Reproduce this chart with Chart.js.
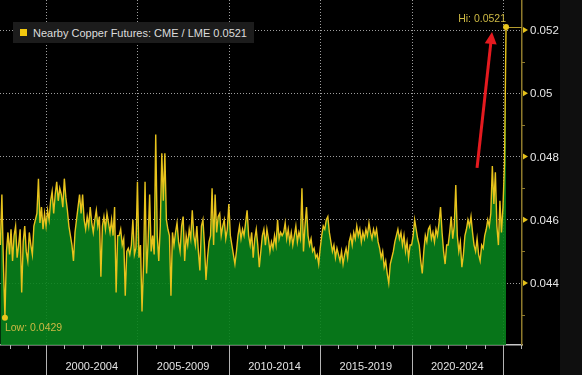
<!DOCTYPE html>
<html>
<head>
<meta charset="utf-8">
<script src="https://cdn.jsdelivr.net/npm/chart.js@4.4.1/dist/chart.umd.min.js"></script>
<style>
  html, body { margin: 0; padding: 0; background: #000; }
  body { width: 582px; height: 375px; position: relative; overflow: hidden; }
  #wrap { position: absolute; left: 0; top: 0; width: 560px; height: 375px; }
  #side { position: absolute; left: 560px; top: 0; width: 22px; height: 375px; background: #0f0f0f; }
  #legend { position: absolute; left: 13px; top: 22px; height: 21px; padding: 0 7px; background: #1c1c1c;
            display: flex; align-items: center; font: 11px 'Liberation Sans', Arial, sans-serif; color: #dcdcdc; white-space: nowrap; }
  #legend i { display: inline-block; width: 7px; height: 7px; background: #f2c80f; margin-right: 6px; }
</style>
</head>
<body>
<div id="wrap"><canvas id="grafico"></canvas></div>
<div id="side"></div>
<div id="legend"><i></i><span id="legendText"></span></div>
<script>
// monthly readings, first one is Jul 1997
const startYear = 1997.5;
const ratio = [
  0.0452, 0.0468, 0.0446, 0.0429, 0.0450, 0.0456,
  0.0449, 0.0457, 0.0447, 0.0455, 0.0458, 0.0448, 0.0452, 0.0457, 0.0437, 0.0453, 0.0458, 0.0450, // 1998
  0.0447, 0.0456, 0.0452, 0.0449, 0.0458, 0.0460, 0.0462, 0.0473, 0.0459, 0.0464, 0.0457, 0.0462, // 1999
  0.0458, 0.0463, 0.0460, 0.0466, 0.0469, 0.0462, 0.0468, 0.0472, 0.0466, 0.0470, 0.0468, 0.0464, // 2000
  0.0473, 0.0467, 0.0463, 0.0458, 0.0455, 0.0452, 0.0447, 0.0456, 0.0460, 0.0464, 0.0468, 0.0462, // 2001
  0.0468, 0.0460, 0.0457, 0.0461, 0.0458, 0.0464, 0.0459, 0.0456, 0.0460, 0.0463, 0.0458, 0.0461, // 2002
  0.0442, 0.0458, 0.0461, 0.0457, 0.0462, 0.0459, 0.0456, 0.0460, 0.0455, 0.0464, 0.0437, 0.0455, // 2003
  0.0455, 0.0457, 0.0452, 0.0454, 0.0436, 0.0450, 0.0451, 0.0449, 0.0452, 0.0460, 0.0449, 0.0451, // 2004
  0.0472, 0.0448, 0.0452, 0.0431, 0.0446, 0.0472, 0.0443, 0.0453, 0.0468, 0.0450, 0.0455, 0.0449, // 2005
  0.0487, 0.0455, 0.0447, 0.0458, 0.0481, 0.0466, 0.0481, 0.0460, 0.0457, 0.0455, 0.0436, 0.0456, // 2006
  0.0452, 0.0456, 0.0459, 0.0453, 0.0450, 0.0458, 0.0461, 0.0447, 0.0455, 0.0452, 0.0457, 0.0454, // 2007
  0.0463, 0.0455, 0.0452, 0.0458, 0.0450, 0.0444, 0.0458, 0.0460, 0.0452, 0.0441, 0.0448, 0.0453, // 2008
  0.0455, 0.0470, 0.0452, 0.0468, 0.0456, 0.0461, 0.0462, 0.0455, 0.0458, 0.0460, 0.0454, 0.0457, // 2009
  0.0465, 0.0455, 0.0452, 0.0449, 0.0446, 0.0450, 0.0455, 0.0458, 0.0454, 0.0457, 0.0455, 0.0459, // 2010
  0.0463, 0.0455, 0.0452, 0.0456, 0.0448, 0.0454, 0.0457, 0.0452, 0.0445, 0.0450, 0.0455, 0.0457, // 2011
  0.0452, 0.0457, 0.0454, 0.0450, 0.0453, 0.0451, 0.0455, 0.0452, 0.0460, 0.0454, 0.0456, 0.0455, // 2012
  0.0456, 0.0459, 0.0454, 0.0457, 0.0453, 0.0456, 0.0452, 0.0455, 0.0458, 0.0453, 0.0456, 0.0454, // 2013
  0.0470, 0.0450, 0.0458, 0.0464, 0.0455, 0.0452, 0.0454, 0.0450, 0.0451, 0.0448, 0.0449, 0.0446, // 2014
  0.0451, 0.0455, 0.0458, 0.0457, 0.0460, 0.0461, 0.0456, 0.0453, 0.0450, 0.0452, 0.0448, 0.0451, // 2015
  0.0449, 0.0447, 0.0450, 0.0446, 0.0449, 0.0451, 0.0448, 0.0453, 0.0455, 0.0452, 0.0456, 0.0454, // 2016
  0.0458, 0.0455, 0.0457, 0.0453, 0.0456, 0.0454, 0.0457, 0.0455, 0.0459, 0.0456, 0.0454, 0.0457, // 2017
  0.0455, 0.0457, 0.0453, 0.0451, 0.0448, 0.0450, 0.0445, 0.0447, 0.0443, 0.0440, 0.0446, 0.0448, // 2018
  0.0450, 0.0453, 0.0455, 0.0457, 0.0454, 0.0456, 0.0452, 0.0455, 0.0450, 0.0453, 0.0448, 0.0452, // 2019
  0.0452, 0.0455, 0.0460, 0.0457, 0.0454, 0.0452, 0.0447, 0.0443, 0.0450, 0.0455, 0.0453, 0.0457, // 2020
  0.0458, 0.0454, 0.0456, 0.0453, 0.0457, 0.0455, 0.0459, 0.0464, 0.0456, 0.0450, 0.0446, 0.0452, // 2021
  0.0452, 0.0456, 0.0461, 0.0454, 0.0458, 0.0471, 0.0455, 0.0450, 0.0453, 0.0445, 0.0449, 0.0455, // 2022
  0.0457, 0.0460, 0.0458, 0.0461, 0.0456, 0.0452, 0.0450, 0.0454, 0.0449, 0.0447, 0.0452, 0.0451, // 2023
  0.0455, 0.0457, 0.0460, 0.0458, 0.0462, 0.0477, 0.0465, 0.0475, 0.0458, 0.0452, 0.0466, 0.0456, // 2024
  0.0464, 0.0478, 0.0521 // 2025
];

const periodStarts = [2000, 2005, 2010, 2015, 2020, 2025];
const periodLabels = ['2000-2004', '2005-2009', '2010-2014', '2015-2019', '2020-2024'];
const yTicks = [0.044, 0.046, 0.048, 0.05, 0.052];
const yTickLabels = ['0.044', '0.046', '0.048', '0.05', '0.052'];
const seriesName = 'Nearby Copper Futures: CME / LME';
// red arrow pointing at the high (data coordinates)
const arrowFrom = [2023.58, 0.04764];
const arrowTo = [2024.40, 0.05194];

const FONT = "'Liberation Sans', Arial, sans-serif";

document.getElementById('legendText').textContent =
  seriesName + ' ' + ratio[ratio.length - 1].toFixed(4);

const points = ratio.map((v, i) => ({ x: startYear + i / 12, y: v }));

const decor = {
  id: 'decor',
  beforeDatasetsDraw(chart) {
    const { ctx, chartArea: a, scales: { x } } = chart;
    ctx.save();
    ctx.strokeStyle = 'rgba(175,175,175,0.9)';
    ctx.lineWidth = 1;
    ctx.setLineDash([1, 2]);
    periodStarts.forEach(yr => {
      const px = Math.round(x.getPixelForValue(yr)) + 0.5;
      ctx.beginPath();
      ctx.moveTo(px, a.top);
      ctx.lineTo(px, a.bottom);
      ctx.stroke();
    });
    ctx.restore();
  },
  afterDraw(chart) {
    const { ctx, chartArea: a, scales: { x, y } } = chart;
    ctx.save();

    // year ticks and period separators under the time axis
    ctx.strokeStyle = '#b4b4b4';
    ctx.lineWidth = 1;
    for (let yr = Math.ceil(x.min); yr <= x.max; yr++) {
      const px = Math.round(x.getPixelForValue(yr)) + 0.5;
      const len = periodStarts.includes(yr) ? chart.height - a.bottom : 4;
      ctx.beginPath();
      ctx.moveTo(px, a.bottom);
      ctx.lineTo(px, a.bottom + len);
      ctx.stroke();
    }

    // minor ticks, little flags and labels on the value axis
    ctx.strokeStyle = '#8f7a2c';
    yTicks.map(v => v - 0.001).forEach(v => {
      const py = Math.round(y.getPixelForValue(v)) + 0.5;
      ctx.beginPath();
      ctx.moveTo(a.right, py);
      ctx.lineTo(a.right + 3, py);
      ctx.stroke();
    });
    ctx.font = '11.5px ' + FONT;
    ctx.textAlign = 'left';
    ctx.textBaseline = 'middle';
    yTicks.forEach((v, i) => {
      const py = y.getPixelForValue(v);
      ctx.fillStyle = '#e6c21a';
      ctx.beginPath();
      ctx.moveTo(a.right + 1, py - 3);
      ctx.lineTo(a.right + 1, py + 3);
      ctx.lineTo(a.right + 6, py);
      ctx.closePath();
      ctx.fill();
      ctx.fillStyle = '#e6e6e6';
      ctx.fillText(yTickLabels[i], a.right + 8, py + 1);
    });
    ctx.textBaseline = 'alphabetic';

    // hi / low markers
    const meta = chart.getDatasetMeta(0);
    const hi = meta.data[ratio.indexOf(Math.max(...ratio))];
    const lo = meta.data[ratio.indexOf(Math.min(...ratio))];
    ctx.strokeStyle = '#b39b2e';
    ctx.beginPath();
    ctx.moveTo(hi.x, Math.round(hi.y) + 0.5);
    ctx.lineTo(a.right, Math.round(hi.y) + 0.5);
    ctx.stroke();
    ctx.fillStyle = '#e8c51c';
    [hi, lo].forEach(p => {
      ctx.beginPath();
      ctx.arc(p.x, p.y, 3, 0, Math.PI * 2);
      ctx.fill();
    });
    ctx.fillStyle = '#cdb944';
    ctx.font = '10.5px ' + FONT;
    ctx.textAlign = 'right';
    ctx.fillText('Hi: ' + Math.max(...ratio).toFixed(4), hi.x, hi.y - 5);
    ctx.textAlign = 'left';
    ctx.fillText('Low: ' + Math.min(...ratio).toFixed(4), lo.x, lo.y + 13);

    // red arrow
    const x1 = x.getPixelForValue(arrowFrom[0]), y1 = y.getPixelForValue(arrowFrom[1]);
    const x2 = x.getPixelForValue(arrowTo[0]), y2 = y.getPixelForValue(arrowTo[1]);
    const ang = Math.atan2(y2 - y1, x2 - x1);
    ctx.strokeStyle = ctx.fillStyle = '#e51a1f';
    ctx.lineWidth = 3;
    ctx.beginPath();
    ctx.moveTo(x1, y1);
    ctx.lineTo(x2 - Math.cos(ang) * 9, y2 - Math.sin(ang) * 9);
    ctx.stroke();
    ctx.beginPath();
    ctx.moveTo(x2, y2);
    ctx.lineTo(x2 - Math.cos(ang) * 12 + Math.sin(ang) * 6, y2 - Math.sin(ang) * 12 - Math.cos(ang) * 6);
    ctx.lineTo(x2 - Math.cos(ang) * 12 - Math.sin(ang) * 6, y2 - Math.sin(ang) * 12 + Math.cos(ang) * 6);
    ctx.closePath();
    ctx.fill();

    ctx.restore();
  }
};

const ctx = document.getElementById('grafico').getContext('2d');
new Chart(ctx, {
  type: 'line',
  data: {
    datasets: [{
      label: seriesName,
      data: points,
      borderColor: '#e8c31c',
      borderWidth: 1.4,
      backgroundColor: 'rgba(8,130,28,0.9)',
      fill: 'start',
      tension: 0,
      pointRadius: 0
    }]
  },
  options: {
    responsive: true,
    maintainAspectRatio: false,
    animation: false,
    layout: { padding: 0 },
    plugins: {
      legend: { display: false },
      tooltip: { enabled: false }
    },
    scales: {
      x: {
        type: 'linear',
        min: 1997.48,
        max: 2026.04,
        afterBuildTicks: s => { s.ticks = periodStarts.slice(0, -1).map(v => ({ value: v + 2.5 })); },
        afterFit: s => { s.height = 30; },
        ticks: {
          color: '#e2e2e2',
          font: { family: FONT, size: 11 },
          padding: 15,
          maxRotation: 0,
          autoSkip: false,
          callback: (v, i) => periodLabels[i]
        },
        grid: { display: false, drawTicks: false },
        border: { color: '#c8c8c8', width: 1.5 }
      },
      y: {
        position: 'right',
        min: 0.04204,
        max: 0.05295,
        afterBuildTicks: s => { s.ticks = yTicks.map(v => ({ value: v })); },
        afterFit: s => { s.width = 38; },
        // labels are painted by the decor plugin so the axis adds no top padding
        ticks: { display: false },
        grid: { color: 'rgba(175,175,175,0.9)', drawTicks: false, lineWidth: 1 },
        border: { color: '#8f7a2c', width: 1.5, dash: [1, 2] }
      }
    }
  },
  plugins: [decor]
});
</script>
</body>
</html>
